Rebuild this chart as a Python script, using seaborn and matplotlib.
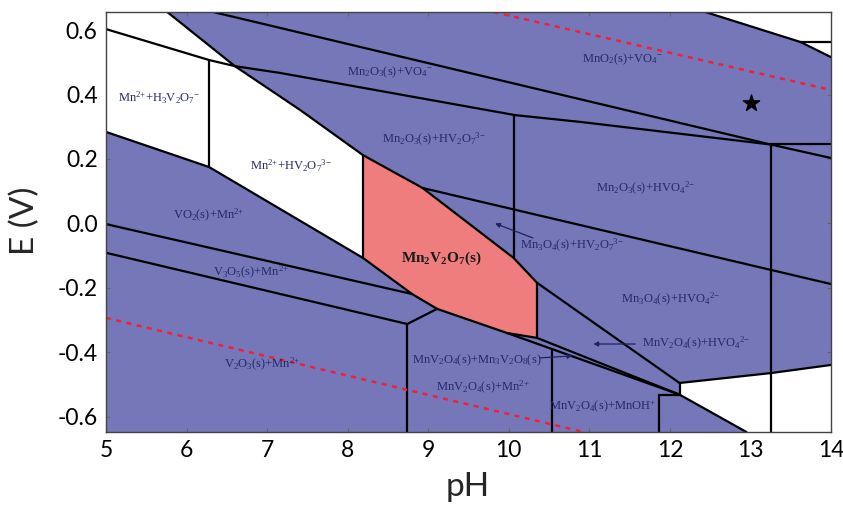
import matplotlib
matplotlib.use("Agg")
import matplotlib.pyplot as plt
import seaborn as sns
import pandas as pd

sns.set_theme(style="white")
plt.rcParams["font.family"] = ["Lato", "DejaVu Sans"]
plt.rcParams["mathtext.fontset"] = "custom"
plt.rcParams["mathtext.rm"] = "Liberation Serif"
plt.rcParams["mathtext.it"] = "Liberation Serif:italic"
plt.rcParams["mathtext.bf"] = "Liberation Serif:bold"

# ---------------- data (pH, E in V) ----------------
x_ticks = [5, 6, 7, 8, 9, 10, 11, 12, 13, 14]
y_ticks = [-0.6, -0.4, -0.2, 0.0, 0.2, 0.4, 0.6]
y_tick_labels = ["-0.6", "-0.4", "-0.2", "0.0", "0.2", "0.4", "0.6"]

# boundary lines
line_A_pH = [6.33, 13.25, 14.0]
line_A_E = [0.656, 0.245, 0.203]
line_B_pH = [5.0, 6.28, 6.60, 7.16, 10.08, 10.89, 13.25]
line_B_E = [0.603, 0.507, 0.488, 0.467, 0.336, 0.315, 0.245]
line_Bh_pH = [13.25, 14.0]
line_Bh_E = [0.245, 0.245]
line_C_pH = [12.44, 13.62, 14.0]
line_C_E = [0.656, 0.563, 0.516]
line_Ch_pH = [13.62, 14.0]
line_Ch_E = [0.563, 0.563]
vert_1326_pH = [13.26, 13.26]
vert_1326_E = [0.245, -0.647]
vert_628_pH = [6.28, 6.28]
vert_628_E = [0.507, 0.175]
line_D_pH = [5.0, 6.28, 8.19]
line_D_E = [0.284, 0.175, -0.107]
line_E_pH = [5.76, 6.60, 7.41, 8.19, 8.93, 10.06, 10.35, 12.12]
line_E_E = [0.656, 0.488, 0.352, 0.212, 0.110, -0.107, -0.184, -0.495]
pink_left_pH = [8.19, 8.19]
pink_left_E = [0.212, -0.107]
pink_right_pH = [10.35, 10.35]
pink_right_E = [-0.184, -0.355]
vert_1006_pH = [10.06, 10.06]
vert_1006_E = [0.336, -0.107]
line_H_pH = [8.93, 14.0]
line_H_E = [0.110, -0.188]
line_I_pH = [5.0, 8.80]
line_I_E = [-0.002, -0.219]
line_J_pH = [5.0, 8.74, 9.11]
line_J_E = [-0.091, -0.312, -0.265]
vert_874_pH = [8.74, 8.74]
vert_874_E = [-0.312, -0.647]
pink_bottom_pH = [8.19, 8.80, 9.11, 9.98, 10.35]
pink_bottom_E = [-0.107, -0.219, -0.265, -0.340, -0.355]
line_L_pH = [9.98, 12.12]
line_L_E = [-0.340, -0.531]
line_K_pH = [10.35, 12.12]
line_K_E = [-0.355, -0.531]
vert_1054_pH = [10.54, 10.54]
vert_1054_E = [-0.390, -0.647]
vert_1186_pH = [11.86, 11.86]
vert_1186_E = [-0.531, -0.647]
line_Mh_pH = [11.86, 12.12]
line_Mh_E = [-0.531, -0.531]
vert_1212_pH = [12.12, 12.12]
vert_1212_E = [-0.495, -0.531]
line_G_pH = [12.12, 13.26, 14.0]
line_G_E = [-0.495, -0.464, -0.439]
line_M_pH = [12.12, 12.95]
line_M_E = [-0.531, -0.647]

# water stability lines
water_up_pH = [9.81, 14.0]
water_up_E = [0.656, 0.414]
water_low_pH = [5.0, 10.93]
water_low_E = [-0.293, -0.647]

# regions (white = aqueous, pink = Mn2V2O7)
white_TL_pH = [5.0, 5.76, 6.60, 6.28, 5.0]
white_TL_E = [0.656, 0.656, 0.488, 0.507, 0.603]
white_H3_pH = [5.0, 6.28, 6.28, 5.0]
white_H3_E = [0.603, 0.507, 0.175, 0.284]
white_HV_pH = [6.28, 6.60, 7.41, 8.19, 8.19, 6.28]
white_HV_E = [0.507, 0.488, 0.352, 0.212, -0.107, 0.175]
white_TR_pH = [12.44, 13.62, 14.0, 14.0]
white_TR_E = [0.656, 0.563, 0.516, 0.656]
white_BR_pH = [12.12, 13.26, 14.0, 14.0, 12.95, 12.12]
white_BR_E = [-0.495, -0.464, -0.439, -0.647, -0.647, -0.531]
pink_pH = [8.19, 8.93, 10.06, 10.35, 10.35, 9.98, 9.11, 8.80, 8.19]
pink_E = [0.212, 0.110, -0.107, -0.184, -0.355, -0.340, -0.265, -0.219, -0.107]

star_pH = [13.01]
star_E = [0.374]

labels = [
    r"Mn$^{\mathrm{2{+}}}$+H$_\mathrm{3}$V$_\mathrm{2}$O$_\mathrm{7}{}^{\mathrm{{-}}}$",
    r"Mn$^{\mathrm{2{+}}}$+HV$_\mathrm{2}$O$_\mathrm{7}{}^{\mathrm{3{-}}}$",
    r"VO$_\mathrm{2}$(s)+Mn$^{\mathrm{2{+}}}$",
    r"V$_\mathrm{3}$O$_\mathrm{5}$(s)+Mn$^{\mathrm{2{+}}}$",
    r"V$_\mathrm{2}$O$_\mathrm{3}$(s)+Mn$^{\mathrm{2{+}}}$",
    r"Mn$_\mathrm{2}$O$_\mathrm{3}$(s)+VO$_\mathrm{4}{}^{\mathrm{{-}}}$",
    r"Mn$_\mathrm{2}$O$_\mathrm{3}$(s)+HV$_\mathrm{2}$O$_\mathrm{7}{}^{\mathrm{3{-}}}$",
    r"MnO$_\mathrm{2}$(s)+VO$_\mathrm{4}{}^{\mathrm{{-}}}$",
    r"Mn$_\mathrm{2}$O$_\mathrm{3}$(s)+HVO$_\mathrm{4}{}^{\mathrm{2{-}}}$",
    r"Mn$_\mathrm{3}$O$_\mathrm{4}$(s)+HV$_\mathrm{2}$O$_\mathrm{7}{}^{\mathrm{3{-}}}$",
    r"Mn$_\mathrm{3}$O$_\mathrm{4}$(s)+HVO$_\mathrm{4}{}^{\mathrm{2{-}}}$",
    r"MnV$_\mathrm{2}$O$_\mathrm{4}$(s)+HVO$_\mathrm{4}{}^{\mathrm{2{-}}}$",
    r"MnV$_\mathrm{2}$O$_\mathrm{4}$(s)+Mn$_\mathrm{3}$V$_\mathrm{2}$O$_\mathrm{8}$(s)",
    r"MnV$_\mathrm{2}$O$_\mathrm{4}$(s)+Mn$^{\mathrm{2{+}}}$",
    r"MnV$_\mathrm{2}$O$_\mathrm{4}$(s)+MnOH$^{\mathrm{{+}}}$",
]
label_pH = [5.66, 7.30, 6.28, 6.80, 6.94, 8.52, 9.07, 11.41, 11.70, 10.78, 12.01, 12.32, 9.60, 9.68, 11.17]
label_E = [0.389, 0.178, 0.026, -0.153, -0.439, 0.470, 0.259, 0.510, 0.107, -0.067, -0.237, -0.371, -0.423, -0.510, -0.569]
main_label = r"Mn$_\mathbf{2}$V$_\mathbf{2}$O$_\mathbf{7}$(s)"
main_label_pos = (9.16, -0.107)

arrow_tail = [(10.30, -0.045), (11.57, -0.374), (10.39, -0.417)]
arrow_head = [(9.83, 0.000), (11.05, -0.374), (10.79, -0.411)]

# ---------------- styles ----------------
BLUE = "#7577b9"
PINK = "#f07d7e"
TXT = "#232867"

fig = plt.figure(figsize=(8.43, 5.08), dpi=100)
ax = fig.add_axes([106 / 843, 1 - 432 / 508, 725 / 843, 420 / 508])
ax.set_facecolor(BLUE)

for px, py, col in [
    (white_TL_pH, white_TL_E, "white"),
    (white_H3_pH, white_H3_E, "white"),
    (white_HV_pH, white_HV_E, "white"),
    (white_TR_pH, white_TR_E, "white"),
    (white_BR_pH, white_BR_E, "white"),
    (pink_pH, pink_E, PINK),
]:
    ax.fill(px, py, color=col, lw=0, zorder=1)

black_lines = [
    (line_A_pH, line_A_E), (line_B_pH, line_B_E), (line_Bh_pH, line_Bh_E),
    (line_C_pH, line_C_E), (line_Ch_pH, line_Ch_E), (vert_1326_pH, vert_1326_E),
    (vert_628_pH, vert_628_E), (line_D_pH, line_D_E), (line_E_pH, line_E_E),
    (pink_left_pH, pink_left_E), (pink_right_pH, pink_right_E),
    (vert_1006_pH, vert_1006_E), (line_H_pH, line_H_E), (line_I_pH, line_I_E),
    (line_J_pH, line_J_E), (vert_874_pH, vert_874_E),
    (pink_bottom_pH, pink_bottom_E), (line_L_pH, line_L_E), (line_K_pH, line_K_E),
    (vert_1054_pH, vert_1054_E), (vert_1186_pH, vert_1186_E),
    (line_Mh_pH, line_Mh_E), (vert_1212_pH, vert_1212_E),
    (line_G_pH, line_G_E), (line_M_pH, line_M_E),
]
for lx, ly in black_lines:
    df = pd.DataFrame({"pH": lx, "E": ly})
    sns.lineplot(data=df, x="pH", y="E", sort=False, estimator=None,
                 color="black", lw=1.6, ax=ax, zorder=3)

for lx, ly in [(water_up_pH, water_up_E), (water_low_pH, water_low_E)]:
    df = pd.DataFrame({"pH": lx, "E": ly})
    sns.lineplot(data=df, x="pH", y="E", sort=False, estimator=None,
                 color="#f0203a", lw=1.8, ls=(0, (2, 2.2)), ax=ax, zorder=4)

sns.scatterplot(x=star_pH, y=star_E, marker="*", s=150, color="black",
                edgecolor="black", ax=ax, zorder=5)

for txt, xx, yy in zip(labels, label_pH, label_E):
    ax.text(xx, yy, txt, ha="center", va="center", color=TXT, fontsize=9,
            family="Liberation Serif", zorder=6)
ax.text(main_label_pos[0], main_label_pos[1], main_label, ha="center", va="center",
        color="#1a1a1a", fontsize=11, fontweight="bold", family="Liberation Serif", zorder=6)

for t, h in zip(arrow_tail, arrow_head):
    ax.annotate("", xy=h, xytext=t,
                arrowprops=dict(arrowstyle="-|>", color="#1d2262", lw=0.9,
                                mutation_scale=7, shrinkA=0, shrinkB=0), zorder=6)

ax.set_xlim(5, 14)
ax.set_ylim(-0.647, 0.656)
ax.set_xticks(x_ticks)
ax.set_xticklabels([str(v) for v in x_ticks])
ax.set_yticks(y_ticks)
ax.set_yticklabels(y_tick_labels)
ax.tick_params(axis="both", which="both", direction="in", length=3, width=0.8,
               color="#666666", labelsize=16.5, pad=6, top=True, right=True,
               bottom=True, left=True, labelcolor="black")
for sp in ax.spines.values():
    sp.set_color("#444444")
    sp.set_linewidth(1.0)
    sp.set_zorder(7)
ax.set_xlabel("")
ax.set_ylabel("")
fig.text(468 / 843, 1 - 487 / 508, "pH", ha="center", va="center", fontsize=24)
fig.text(25 / 843, 1 - 221 / 508, "E (V)", ha="center", va="center", fontsize=24,
         rotation=90)

fig.savefig("out.png", dpi=100)
